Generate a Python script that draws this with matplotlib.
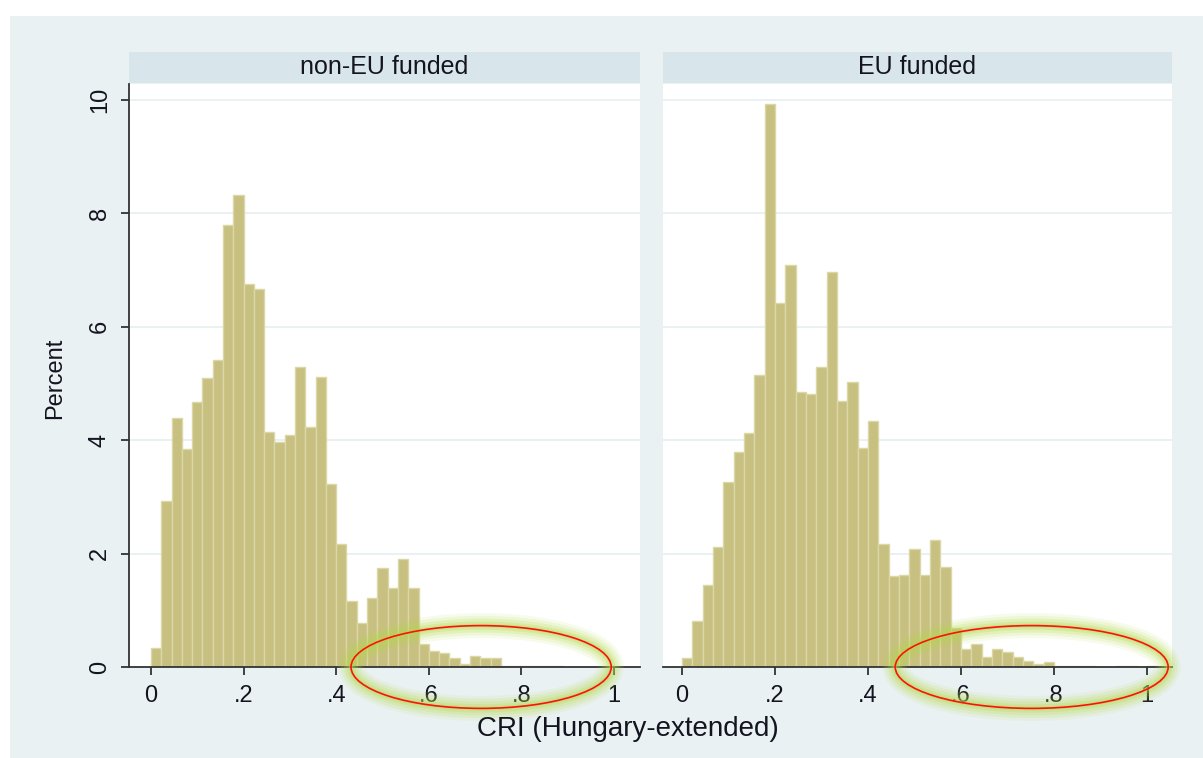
import numpy as np
import matplotlib
matplotlib.use("Agg")
import matplotlib.pyplot as plt
from matplotlib.patches import Ellipse, Rectangle

plt.rcParams['font.family'] = ['Liberation Sans', 'DejaVu Sans']

# ---- data (percent per bin, bin width 1/45 starting at 0) ----
bin_width = 1 / 45
panel_titles = ["non-EU funded", "EU funded"]
non_eu_pct = [0.33, 2.93, 4.39, 3.84, 4.67, 5.09, 5.42, 7.79, 8.33, 6.75,
              6.67, 4.15, 3.97, 4.09, 5.29, 4.24, 5.11, 3.23, 2.17, 1.17,
              0.78, 1.21, 1.75, 1.39, 1.90, 1.39, 0.41, 0.28, 0.25, 0.16,
              0.06, 0.19, 0.15, 0.15, 0.02, 0.02, 0.02, 0.02, 0.02, 0.02,
              0.0, 0.0, 0.0, 0.0, 0.0, 0.0]
eu_pct = [0.15, 0.81, 1.45, 2.11, 3.27, 3.79, 4.12, 5.15, 9.93, 6.42,
          7.09, 4.85, 4.81, 5.29, 6.97, 4.69, 5.03, 3.87, 4.33, 2.17,
          1.60, 1.63, 2.08, 1.63, 2.24, 1.77, 0.69, 0.32, 0.41, 0.17,
          0.32, 0.26, 0.18, 0.11, 0.05, 0.08, 0.02, 0.02, 0.02, 0.015,
          0.0, 0.0, 0.02, 0.02, 0.0, 0.015]
x_ticks = [0, 0.2, 0.4, 0.6, 0.8, 1.0]
x_tick_labels = ["0", ".2", ".4", ".6", ".8", "1"]
y_ticks = [0, 2, 4, 6, 8, 10]
y_tick_labels = ["0", "2", "4", "6", "8", "10"]
x_label = "CRI (Hungary-extended)"
y_label = "Percent"
# highlight ellipses (center x, width, height in data units)
ellipses = [(0.713, 0.562, 1.46), (0.752, 0.587, 1.46)]

# ---- styling ----
W, H = 1203, 758
BG = '#EAF1F3'
STRIP = '#D8E5EA'
GRID = '#E6EFF1'
BAR = '#C8C080'
BAR_EDGE = '#DCD7A6'
TXT = '#141420'

fig = plt.figure(figsize=(W / 100, H / 100), dpi=100)
fig.patch.set_facecolor('white')
fig.patches.append(Rectangle((10 / W, 0), 1 - 10 / W, 1 - 16 / H,
                             transform=fig.transFigure, facecolor=BG,
                             edgecolor='none', zorder=-10))

def fx(px):
    return px / W

def fy(py):
    return 1 - py / H

panels = [
    dict(x0=129, x1=640, zero=151, one=614, vals=non_eu_pct),
    dict(x0=663, x1=1172, zero=682, one=1147, vals=eu_pct),
]
top_px, bot_px = 84, 667
ppu_y = (667 - 100) / 10.0

edges = np.arange(len(non_eu_pct)) * bin_width

for i, p in enumerate(panels):
    ppu = p['one'] - p['zero']
    xmin = (p['x0'] - p['zero']) / ppu
    xmax = (p['x1'] - p['zero']) / ppu
    ymax = (bot_px - top_px) / ppu_y
    ax = fig.add_axes([fx(p['x0']), fy(bot_px), fx(p['x1'] - p['x0']),
                       (bot_px - top_px) / H])
    ax.set_facecolor('white')
    ax.set_xlim(xmin, xmax)
    ax.set_ylim(0, ymax)
    for yv in y_ticks[1:]:
        ax.axhline(yv, color=GRID, lw=1.2, zorder=0)
    ax.bar(edges, p['vals'], width=bin_width, align='edge', color=BAR,
           edgecolor=BAR_EDGE, linewidth=1.0, zorder=2)
    for s in ['top', 'right']:
        ax.spines[s].set_visible(False)
    ax.spines['bottom'].set_color('#333333')
    ax.spines['bottom'].set_linewidth(1.3)
    ax.set_xticks(x_ticks)
    ax.set_xticklabels(x_tick_labels, fontsize=17, color=TXT)
    ax.tick_params(axis='x', length=6, width=1.3, color='#333333', pad=7)
    if i == 0:
        ax.spines['left'].set_color('#333333')
        ax.spines['left'].set_linewidth(1.3)
        ax.set_yticks(y_ticks)
        ax.set_yticklabels(y_tick_labels, fontsize=17, color=TXT,
                           rotation=90, va='center')
        ax.tick_params(axis='y', length=6, width=1.3, color='#333333', pad=7)
    else:
        ax.spines['left'].set_visible(False)
        ax.set_yticks([])
    # highlight ellipse with glow
    cx, ew, eh = ellipses[i]
    for lw, al in [(18, 0.10), (14, 0.14), (10, 0.18), (6, 0.25), (3, 0.3)]:
        ax.add_patch(Ellipse((cx, 0.0), ew, eh, fill=False,
                             edgecolor='#B4DA4A', lw=lw, alpha=al,
                             clip_on=False, zorder=5))
    ax.add_patch(Ellipse((cx, 0.0), ew, eh, fill=False,
                         edgecolor='#FF1010', lw=1.2, clip_on=False, zorder=6))

    # strip
    sax = fig.add_axes([fx(p['x0']), fy(83), fx(p['x1'] - p['x0']), 31 / H])
    sax.set_facecolor(STRIP)
    sax.set_xticks([]); sax.set_yticks([])
    for s in sax.spines.values():
        s.set_visible(False)
    sax.text(0.5, 0.5, panel_titles[i], ha='center', va='center',
             fontsize=18, color=TXT, transform=sax.transAxes)

fig.text(fx(55), fy(378), y_label, rotation=90, ha='center', va='center',
         fontsize=17, color=TXT)
fig.text(fx(628), fy(729), x_label, ha='center', va='center',
         fontsize=20, color=TXT)

fig.savefig('out.png', dpi=100, facecolor=fig.get_facecolor())
